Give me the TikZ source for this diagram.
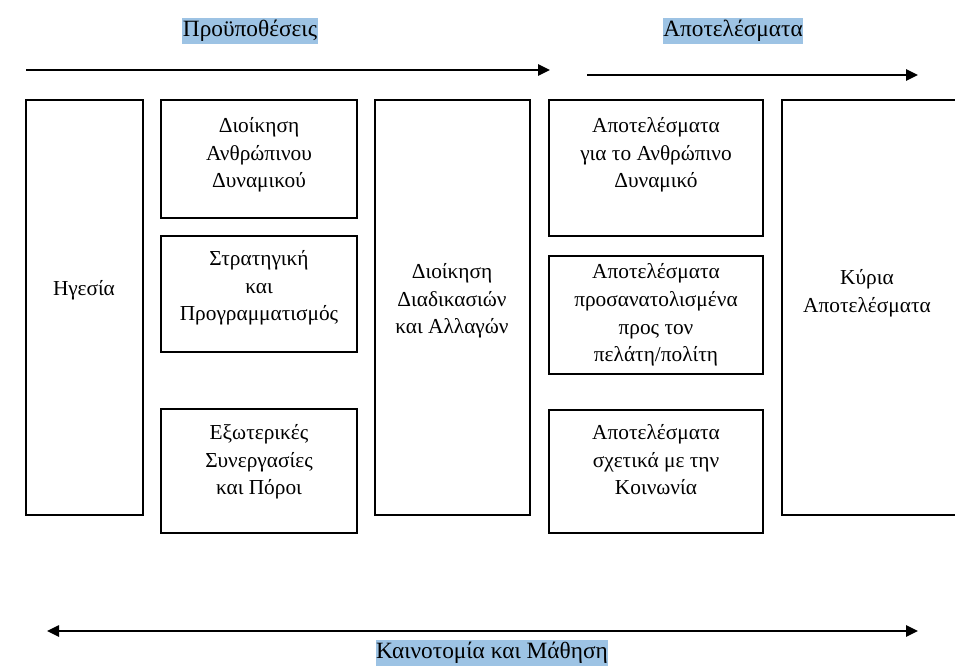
\documentclass[tikz,border=0pt]{standalone}
\usepackage{fontspec}
\setmainfont{Liberation Serif}
\usetikzlibrary{arrows.meta,fit}
\definecolor{hl}{RGB}{157,195,228}
\begin{document}
\begin{tikzpicture}[x=0.75pt,y=-0.75pt,
  box/.style={draw=black, line width=1.1pt, inner sep=0pt},
  txt/.style={font=\fontsize{16}{20.8}\selectfont, align=center, inner sep=0pt, anchor=north},
  ctxt/.style={font=\fontsize{16}{20.8}\selectfont, align=center, inner sep=0pt, anchor=center},
  hlabel/.style={fill=hl, font=\fontsize{17.5}{21}\selectfont, inner xsep=0.5pt, inner ysep=1.5pt},
  flow/.style={line width=1.6pt, -{Triangle[length=9pt,width=8.5pt]}},
  cycle/.style={line width=1.2pt, {Triangle[length=9pt,width=8.5pt]}-{Triangle[length=9pt,width=8.5pt]}},
]
\clip (0,0) rectangle (955,668);

% column boxes
\node[box, fit={(26,100) (143,515)}] (lead) {};
\node[box, fit={(161,100) (357,218)}] (hr) {};
\node[box, fit={(161,236) (357,352)}] (strat) {};
\node[box, fit={(161,409) (357,533)}] (ext) {};
\node[box, fit={(375,100) (530,515)}] (proc) {};
\node[box, fit={(549,100) (763,236)}] (rpeople) {};
\node[box, fit={(549,256) (763,374)}] (rcust) {};
\node[box, fit={(549,410) (763,533)}] (rsoc) {};
\node[box, fit={(782,100) (990,515)}] (key) {};

% texts of the boxes
\node[ctxt] (leadT) at (84,290) {Ηγεσία};
\node[txt] (hrT) at (259,117) {Διοίκηση\\Ανθρώπινου\\Δυναμικού};
\node[txt] (stratT) at (259,250) {Στρατηγική\\και\\Προγραμματισμός};
\node[txt] (extT) at (259,424) {Εξωτερικές\\Συνεργασίες\\και Πόροι};
\node[ctxt] (procT) at (452,301) {Διοίκηση\\Διαδικασιών\\και Αλλαγών};
\node[txt] (rpeopleT) at (656,117) {Αποτελέσματα\\για το Ανθρώπινο\\Δυναμικό};
\node[ctxt] (rcustT) at (656,315) {Αποτελέσματα\\προσανατολισμένα\\προς τον\\πελάτη/πολίτη};
\node[txt] (rsocT) at (656,424) {Αποτελέσματα\\σχετικά με την\\Κοινωνία};
\node[ctxt] (keyT) at (867,293) {Κύρια\\Αποτελέσματα};

% headings
\node[hlabel] (enablers) at (250,31) {Προϋποθέσεις};
\node[hlabel] (results) at (733,31) {Αποτελέσματα};
\node[hlabel] (innov) at (492,653) {Καινοτομία και Μάθηση};

% arrows
\coordinate (e1) at (26,70);
\coordinate (e2) at (550,70);
\coordinate (r1) at (587,75);
\coordinate (r2) at (918,75);
\coordinate (i1) at (47,631);
\coordinate (i2) at (918,631);
\draw[flow] (e1) -- (e2);
\draw[flow] (r1) -- (r2);
\draw[cycle] (i1) -- (i2);
\end{tikzpicture}
\end{document}
